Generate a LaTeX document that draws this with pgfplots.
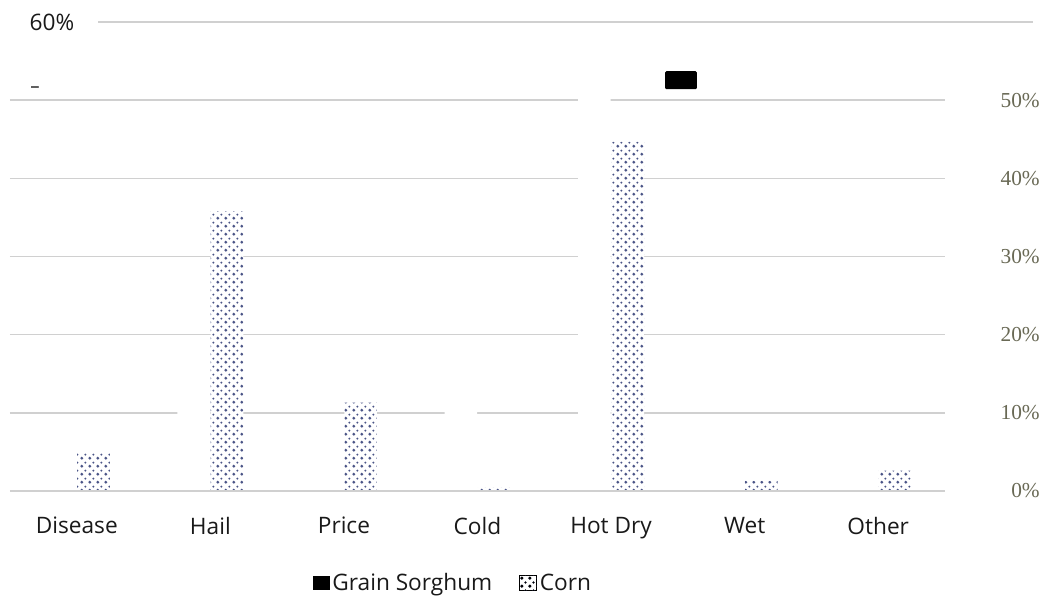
\documentclass[border=0pt]{standalone}
\usepackage{pgfplots}
\pgfplotsset{compat=1.18}
\usepackage{fontspec}
\setmainfont{Open Sans}
\newfontfamily\serifticks{Liberation Serif}
\usetikzlibrary{patterns.meta}

\tikzdeclarepattern{
  name=corndots,
  type=uncolored,
  bottom left={(0pt,0pt)},
  top right={(6pt,6pt)},
  tile size={(6pt,6pt)},
  code={
    \fill (1.5pt,1.5pt) circle (1.3pt);
    \fill (4.5pt,4.5pt) circle (0.9pt);
  }
}

\definecolor{dotc}{RGB}{75,85,135}
\definecolor{gridc}{RGB}{208,208,208}
\definecolor{ytickc}{RGB}{105,105,85}
\definecolor{txt}{RGB}{25,25,25}

\pgfplotstableread{
x val
0 1.4
1 17.0
2 6.2
3 13.7
4 54.0
5 5.4
6 4.1
}\sorghum

\pgfplotstableread{
x val
0 4.9
1 35.8
2 11.3
3 0.4
4 44.7
5 1.3
6 2.6
}\corn

\begin{document}
\begin{tikzpicture}
\path[use as bounding box] (0,0) rectangle (785.25pt,447pt);
\begin{axis}[
  at={(7.5pt,78.75pt)}, anchor=south west,
  width=701.25pt, height=351.75pt, scale only axis,
  xmin=-0.5, xmax=6.5, ymin=0, ymax=60,
  axis line style={draw=none},
  major tick length=0pt,
  ybar=0.5pt, bar width=24.5pt,
  xtick={0,...,6},
  xticklabels={Disease,Hail,Price,Cold,Hot Dry,Wet,Other},
  xticklabel style={font=\fontsize{17}{20}\selectfont, text=txt, yshift=-16pt},
  ytick={0,10,...,50},
  yticklabel={\pgfmathprintnumber{\tick}\%},
  yticklabel pos=right,
  yticklabel style={font=\serifticks\fontsize{16}{18}\selectfont, text=ytickc, anchor=east, inner sep=0pt, xshift=71.25pt},
  /pgf/number format/assume math mode=true,
  ymajorgrids,
  grid style={gridc, line width=1.2pt},
  clip=false,
  legend columns=2,
  legend style={draw=none, at={(0.474,-0.196)}, anchor=center,
    font=\fontsize{17}{20}\selectfont, text=txt,
    /tikz/every even column/.append style={column sep=18pt}},
  legend cell align=left,
]
\addplot[fill=white, draw=none,
  legend image code/.code={\fill[black] (0pt,-5.5pt) rectangle (12.75pt,5.5pt);}]
  table[x=x, y=val] {\sorghum};
\addlegendentry{Grain Sorghum}
\addplot[fill=white, draw=none,
  postaction={pattern={corndots}, pattern color=dotc},
  legend image code/.code={\draw[black, line width=0.9pt, fill=white, postaction={pattern={corndots}, pattern color=black}] (0pt,-5.5pt) rectangle (12.75pt,5.5pt);}]
  table[x=x, y=val] {\corn};
\addlegendentry{Corn}

\draw[gridc, line width=1.2pt] (axis cs:-0.5,0) -- (axis cs:6.5,0);
\draw[gridc, line width=1.2pt] (axis cs:0.159,60) -- (axis cs:7.159,60);
\node[text=txt, font=\fontsize{17}{20}\selectfont] at (axis cs:-0.186,60) {60\%};
\node[text=txt, font=\fontsize{14}{16}\selectfont] at (axis cs:-0.313,51.3) {\textendash};
\fill[black, rounded corners=1pt] (axis cs:4.404,51.4) rectangle (axis cs:4.643,53.7);
\end{axis}
\end{tikzpicture}
\end{document}
